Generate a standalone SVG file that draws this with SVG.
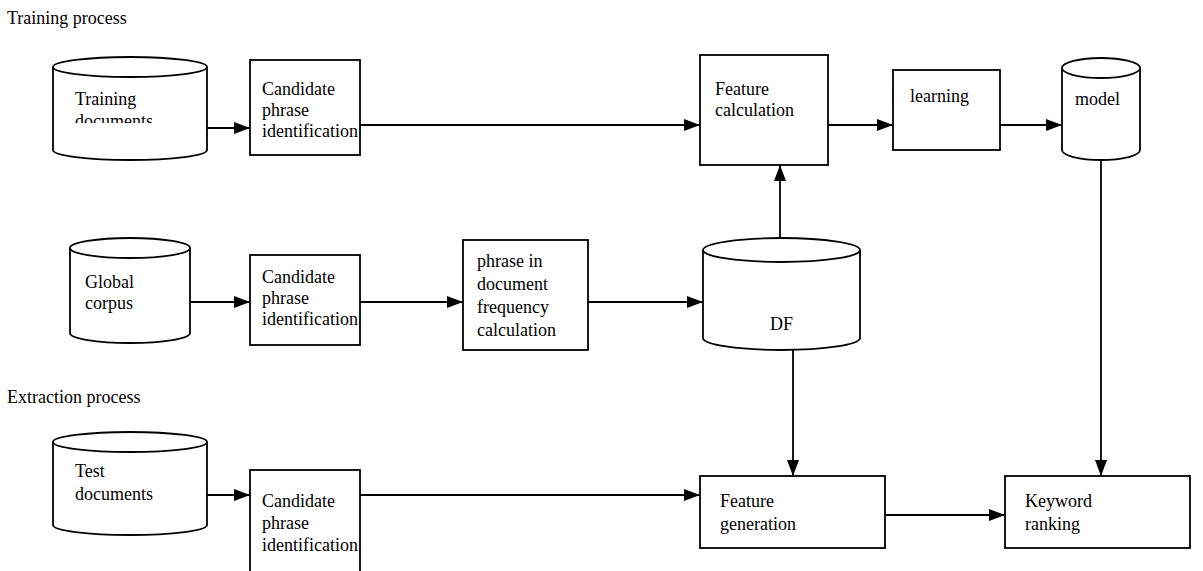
<svg xmlns="http://www.w3.org/2000/svg" width="1203" height="571" viewBox="0 0 1203 571">
<style>
text{font-family:"Liberation Serif","Times New Roman",serif;font-size:18px;fill:#000}
.b{fill:#fff;stroke:#000;stroke-width:1.8}
.c{fill:none;stroke:#000;stroke-width:1.8}
</style>
<defs>
<marker id="ah" viewBox="0 0 16 12" refX="16" refY="6" markerWidth="16" markerHeight="12" markerUnits="userSpaceOnUse" orient="auto">
<path d="M0,0 L16,6 L0,12 Z" fill="#000"/>
</marker>
<clipPath id="clipTD"><rect x="53" y="60" width="154" height="63"/></clipPath>
</defs>
<rect width="1203" height="571" fill="#fff"/>
<text x="7" y="24">Training process</text>
<text x="7" y="403">Extraction process</text>

<g id="connectors" class="c" marker-end="url(#ah)">
<line x1="207" y1="128" x2="250" y2="128"/>
<line x1="360" y1="125" x2="700" y2="125"/>
<line x1="828" y1="125" x2="893" y2="125"/>
<line x1="1000" y1="125" x2="1062" y2="125"/>
<line x1="780" y1="238" x2="780" y2="165"/>
<line x1="190" y1="302" x2="250" y2="302"/>
<line x1="360" y1="302" x2="463" y2="302"/>
<line x1="588" y1="302" x2="703" y2="302"/>
<line x1="793" y1="350" x2="793" y2="476"/>
<line x1="1101" y1="160" x2="1101" y2="476"/>
<line x1="207" y1="495" x2="250" y2="495"/>
<line x1="360" y1="495" x2="700" y2="495"/>
<line x1="885" y1="515" x2="1005" y2="515"/>
</g>

<g id="training-documents">
<path class="b" d="M53,67 L53,150 A77,10 0 0 0 207,150 L207,67"/>
<ellipse class="b" cx="130" cy="67" rx="77" ry="10"/>
<text x="75" y="105">Training</text>
<text x="75" y="127" clip-path="url(#clipTD)">documents</text>
</g>
<g id="cpi-1">
<rect class="b" x="250" y="60" width="110" height="95"/>
<text x="262" y="95">Candidate</text>
<text x="262" y="116">phrase</text>
<text x="262" y="137">identification</text>
</g>
<g id="feature-calculation">
<rect class="b" x="700" y="55" width="128" height="110"/>
<text x="715" y="95">Feature</text>
<text x="715" y="116">calculation</text>
</g>
<g id="learning">
<rect class="b" x="893" y="70" width="107" height="80"/>
<text x="910" y="102">learning</text>
</g>
<g id="model">
<path class="b" d="M1062,68 L1062,150 A39,10 0 0 0 1140,150 L1140,68"/>
<ellipse class="b" cx="1101" cy="68" rx="39" ry="10"/>
<text x="1075" y="105">model</text>
</g>

<g id="global-corpus">
<path class="b" d="M70,248 L70,333 A60,10 0 0 0 190,333 L190,248"/>
<ellipse class="b" cx="130" cy="248" rx="60" ry="10"/>
<text x="85" y="288">Global</text>
<text x="85" y="309">corpus</text>
</g>
<g id="cpi-2">
<rect class="b" x="250" y="255" width="110" height="90"/>
<text x="262" y="283">Candidate</text>
<text x="262" y="304">phrase</text>
<text x="262" y="325">identification</text>
</g>
<g id="phrase-df-calc">
<rect class="b" x="463" y="240" width="125" height="110"/>
<text x="477" y="267">phrase in</text>
<text x="477" y="290">document</text>
<text x="477" y="313">frequency</text>
<text x="477" y="336">calculation</text>
</g>
<g id="df">
<path class="b" d="M703,250 L703,338 A78.5,12 0 0 0 860,338 L860,250"/>
<ellipse class="b" cx="781.5" cy="250" rx="78.5" ry="12"/>
<text x="770" y="330">DF</text>
</g>

<g id="test-documents">
<path class="b" d="M53,442 L53,525 A77,10 0 0 0 207,525 L207,442"/>
<ellipse class="b" cx="130" cy="442" rx="77" ry="10"/>
<text x="75" y="477">Test</text>
<text x="75" y="500">documents</text>
</g>
<g id="cpi-3">
<rect class="b" x="250" y="470" width="110" height="110"/>
<text x="262" y="507">Candidate</text>
<text x="262" y="529">phrase</text>
<text x="262" y="551">identification</text>
</g>
<g id="feature-generation">
<rect class="b" x="700" y="476" width="185" height="72"/>
<text x="720" y="507">Feature</text>
<text x="720" y="530">generation</text>
</g>
<g id="keyword-ranking">
<rect class="b" x="1005" y="476" width="185" height="72"/>
<text x="1025" y="507">Keyword</text>
<text x="1025" y="530">ranking</text>
</g>
</svg>
